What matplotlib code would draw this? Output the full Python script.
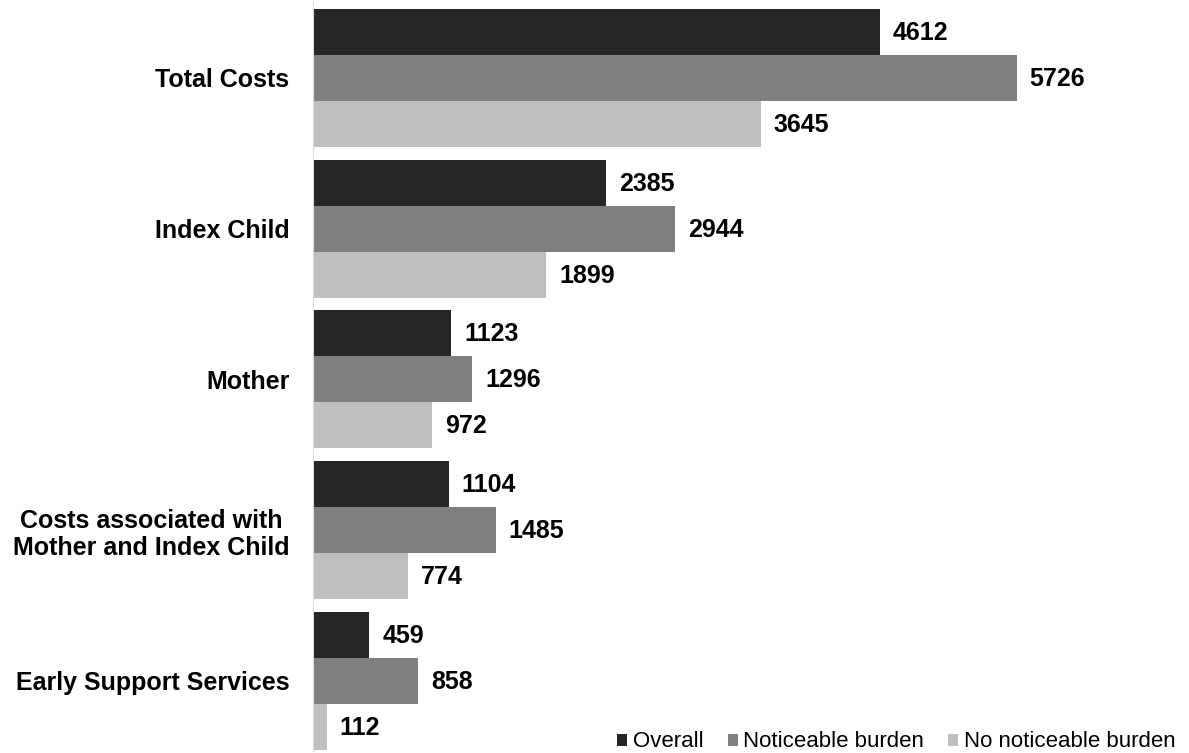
import numpy as np
import matplotlib.pyplot as plt

plt.rcParams['font.family'] = ['Liberation Sans', 'DejaVu Sans']

categories = ["Total Costs", "Index Child", "Mother",
              "Costs associated with\nMother and Index Child", "Early Support Services"]
series_names = ["Overall", "Noticeable burden", "No noticeable burden"]
overall = [4612, 2385, 1123, 1104, 459]
noticeable = [5726, 2944, 1296, 1485, 858]
no_noticeable = [3645, 1899, 972, 774, 112]
colors = ["#262626", "#7f7f7f", "#bfbfbf"]

fig = plt.figure(figsize=(11.89, 7.53), dpi=100)
ax = fig.add_axes([313 / 1189, 0, 1 - 313 / 1189, 1])

y = np.arange(len(categories))
h = 0.305
for i, (vals, name, c) in enumerate(zip([overall, noticeable, no_noticeable], series_names, colors)):
    pos = y + (i - 1) * h
    bars = ax.barh(pos, vals, height=h, color=c, label=name)
    for b, v in zip(bars, vals):
        ax.annotate(str(v), (b.get_width(), b.get_y() + b.get_height() / 2),
                    xytext=(13, -1), textcoords="offset pixels",
                    va="center", ha="left", fontsize=18, fontweight="bold")

ax.set_xlim(0, 7128)
ax.set_ylim(4.478, -0.517)
ax.set_yticks(y)
ax.set_yticklabels(categories, fontsize=18, fontweight="bold", linespacing=1.15)
for lbl in ax.get_yticklabels():
    lbl.set_horizontalalignment("right")
    lbl.set_multialignment("center")
ax.tick_params(axis="y", length=0, pad=17)
ax.set_xticks([])
for s in ["top", "right", "bottom"]:
    ax.spines[s].set_visible(False)
ax.spines["left"].set_color("#d9d9d9")
ax.spines["left"].set_bounds(4.478 - 0.01, -0.517 + 0.01)

ax.legend(loc="lower right", bbox_to_anchor=(1.0, -0.017), ncol=3, frameon=False,
          fontsize=16, handlelength=0.45, handleheight=0.45, handletextpad=0.25,
          columnspacing=1.1, borderaxespad=0.2)

fig.savefig("out.png", dpi=100)
